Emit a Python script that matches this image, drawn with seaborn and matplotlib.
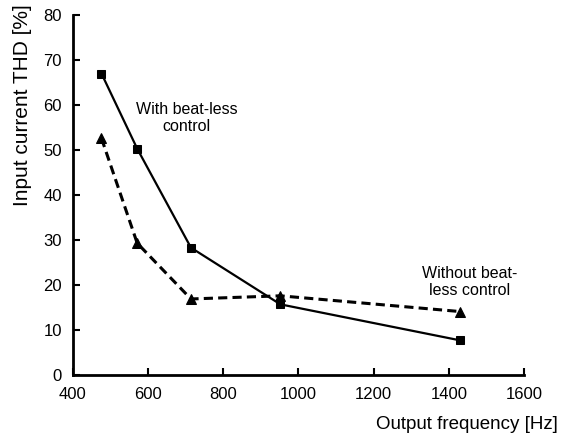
import matplotlib
matplotlib.use("Agg")
import matplotlib.pyplot as plt
import seaborn as sns
import pandas as pd

freq = [476, 571, 714, 952, 1430]
thd_with = [67.0, 50.3, 28.3, 15.7, 7.7]
thd_without = [52.6, 29.3, 16.9, 17.6, 14.1]

x_ticks = [400, 600, 800, 1000, 1200, 1400, 1600]
y_ticks = [0, 10, 20, 30, 40, 50, 60, 70, 80]

sns.set_theme(style="ticks")
plt.rcParams['font.family'] = ['Liberation Sans', 'DejaVu Sans']

df_with = pd.DataFrame({"f": freq, "thd": thd_with})
df_without = pd.DataFrame({"f": freq, "thd": thd_without})

fig = plt.figure(figsize=(5.61, 4.43), dpi=100)
ax = fig.add_axes([0.130, 0.1535, 0.804, 0.8125])

sns.lineplot(data=df_with, x="f", y="thd", ax=ax, color="black", linewidth=1.6,
             marker="s", markersize=6, markeredgecolor="black", markerfacecolor="black")
sns.lineplot(data=df_without, x="f", y="thd", ax=ax, color="black", linewidth=2.2,
             marker="^", markersize=7, markeredgecolor="black", markerfacecolor="black",
             dashes=False)
ax.lines[-1].set_dashes((3.0, 1.7))

ax.set_xlim(400, 1600)
ax.set_ylim(0, 80)
ax.set_xticks(x_ticks)
ax.set_yticks(y_ticks)
ax.tick_params(direction="in", length=5, width=1.5, labelsize=12, colors="black")
ax.tick_params(axis="x", pad=9)
ax.tick_params(axis="y", pad=8)
for s in ["top", "right"]:
    ax.spines[s].set_visible(False)
for s in ["left", "bottom"]:
    ax.spines[s].set_linewidth(2)
    ax.spines[s].set_color("black")

ax.set_xlabel("Output frequency [Hz]", fontsize=13.5, color="black")
ax.xaxis.set_label_coords(1.075, -0.113)
ax.xaxis.label.set_horizontalalignment("right")
ax.set_ylabel("Input current THD [%]", fontsize=15, color="black")
ax.yaxis.set_label_coords(-0.09, 1.03)
ax.yaxis.label.set_horizontalalignment("right")

ax.text(703, 57.1, "With beat-less\ncontrol", ha="center", va="center", fontsize=11.5,
        linespacing=1.2, color="black")
ax.text(1456, 20.7, "Without beat-\nless control", ha="center", va="center", fontsize=11.5,
        linespacing=1.2, color="black")

fig.savefig("out.png", dpi=100)
